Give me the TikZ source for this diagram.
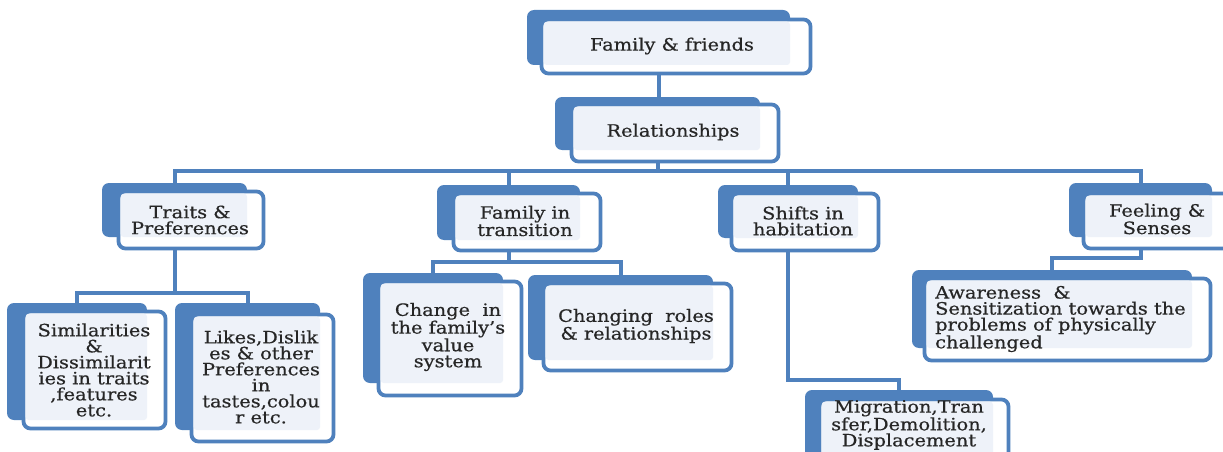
\documentclass[tikz,border=0pt]{standalone}
\usepackage{fontspec}
\setmainfont[FakeStretch=1.14,FakeBold=0.6,Ligatures=NoCommon]{DejaVu Serif}
\definecolor{bblue}{RGB}{79,129,189}
\definecolor{lblue}{RGB}{238,242,249}
\definecolor{tgray}{RGB}{38,38,38}
\tikzset{
  backbox/.style={fill=bblue, rounded corners=7pt, inner sep=0pt, outer sep=0pt},
  frontbox/.style={fill=white, draw=bblue, line width=3.8pt, rounded corners=7pt, inner sep=0pt, outer sep=0pt},
  lightfill/.style={fill=lblue, rounded corners=3pt},
  conn/.style={draw=bblue, line width=4pt},
  txt/.style={font=\fontsize{17}{16}\selectfont, text=tgray, align=center, inner sep=0pt}
}
\newcommand\tbox[9]{%
  \node[backbox, minimum width={(#4-#2)*1pt}, minimum height={(#5-#3)*1pt}] (#1b) at ({(#2+#4)/2},{(#3+#5)/2}) {};
  \node[frontbox, minimum width={(#8-#6-3)*1pt}, minimum height={(#9-#7-3)*1pt}] (#1f) at ({(#6+#8)/2},{(#7+#9)/2}) {};
  \fill[lightfill] ([shift={(2.2,2.2)}]#1f.north west) rectangle (#1b.south east);
}
\begin{document}
\begin{tikzpicture}[x=1pt,y=-1pt]
\useasboundingbox (0,0) rectangle (1223,452);
\clip (0,0) rectangle (1223,452);
\fill[white] (0,0) rectangle (1223,452);
\coordinate (bus1) at (0,171);
\coordinate (bus2) at (0,293);
\coordinate (bus3) at (0,262);
\coordinate (bus4) at (0,380);
\coordinate (bus5) at (0,258);
% boxes
\tbox{ff}{527}{10}{790}{65}{540}{18}{812}{75}
\tbox{rel}{555}{97}{760}{150}{570}{103}{780}{163}
\tbox{tr}{102}{183}{247}{237}{117}{190}{265}{250}
\tbox{sim}{7}{303}{147}{420}{22}{310}{167}{430}
\tbox{lik}{175}{303}{320}{430}{190}{313}{335}{443}
\tbox{fit}{437}{185}{580}{240}{452}{192}{602}{252}
\tbox{ch}{363}{273}{503}{383}{377}{280}{523}{397}
\tbox{cr}{528}{275}{713}{360}{542}{282}{733}{372}
\tbox{sh}{718}{185}{858}{238}{730}{192}{880}{252}
\tbox{fe}{1069}{183}{1212}{237}{1082}{192}{1240}{250}
\tbox{aw}{912}{270}{1192}{348}{923}{277}{1212}{362}
\tbox{mig}{805}{390}{993}{470}{818}{398}{1010}{480}
% connectors
\draw[conn] (ffb |- fff.south) -- (ffb |- relb.north);
\draw[conn] (relb |- relf.south) -- (relb |- bus1);
\draw[conn] (trb.north) -- (trb |- bus1) -- (feb |- bus1) -- (feb.north);
\draw[conn] (fitb |- bus1) -- (fitb.north);
\draw[conn] (shb |- bus1) -- (shb.north);
\draw[conn] (trb |- trf.south) -- (trb |- bus2);
\draw[conn] (simb.north) -- (simb |- bus2) -- (likb |- bus2) -- (likb.north);
\draw[conn] (fitb |- fitf.south) -- (fitb |- bus3);
\draw[conn] (chb.north) -- (chb |- bus3) -- (crb |- bus3) -- (crb.north);
\draw[conn] (shb |- shf.south) -- (shb |- bus4) -| (migb.north);
\draw[conn] (feb |- fef.south) -- (feb |- bus5) -| (awb.north);
% texts
\node[txt] (t-ff) at (672,46) {Family \& friends};
\node[txt] (t-rel) at (673,132) {Relationships};
\node[txt] (t-tr) at (190,220) {Traits \&\\Preferences};
\node[txt] (t-sim) at (94,370) {Similarities\\\&\\Dissimilarit\\ies in traits\\,features\\etc.};
\node[txt] (t-lik) at (261,377) {Likes,Dislik\\es \& other\\Preferences\\in\\tastes,colou\\r etc.};
\node[txt] (t-fit) at (525,221) {Family in\\transition};
\node[txt] (t-ch) at (448,337) {Change~ in\\the family's\\value\\system};
\node[txt] (t-cr) at (636,326) {Changing~ roles\\\& relationships};
\node[txt] (t-sh) at (803,221) {Shifts in\\habitation};
\node[txt] (t-fe) at (1157,219) {Feeling \&\\Senses};
\node[txt, align=left, anchor=west] (t-aw) at (935,319) {Awareness~ \&\\Sensitization towards the\\problems of physically\\challenged};
\node[txt] (t-mig) at (909,425) {Migration,Tran\\sfer,Demolition,\\Displacement};
\end{tikzpicture}
\end{document}
